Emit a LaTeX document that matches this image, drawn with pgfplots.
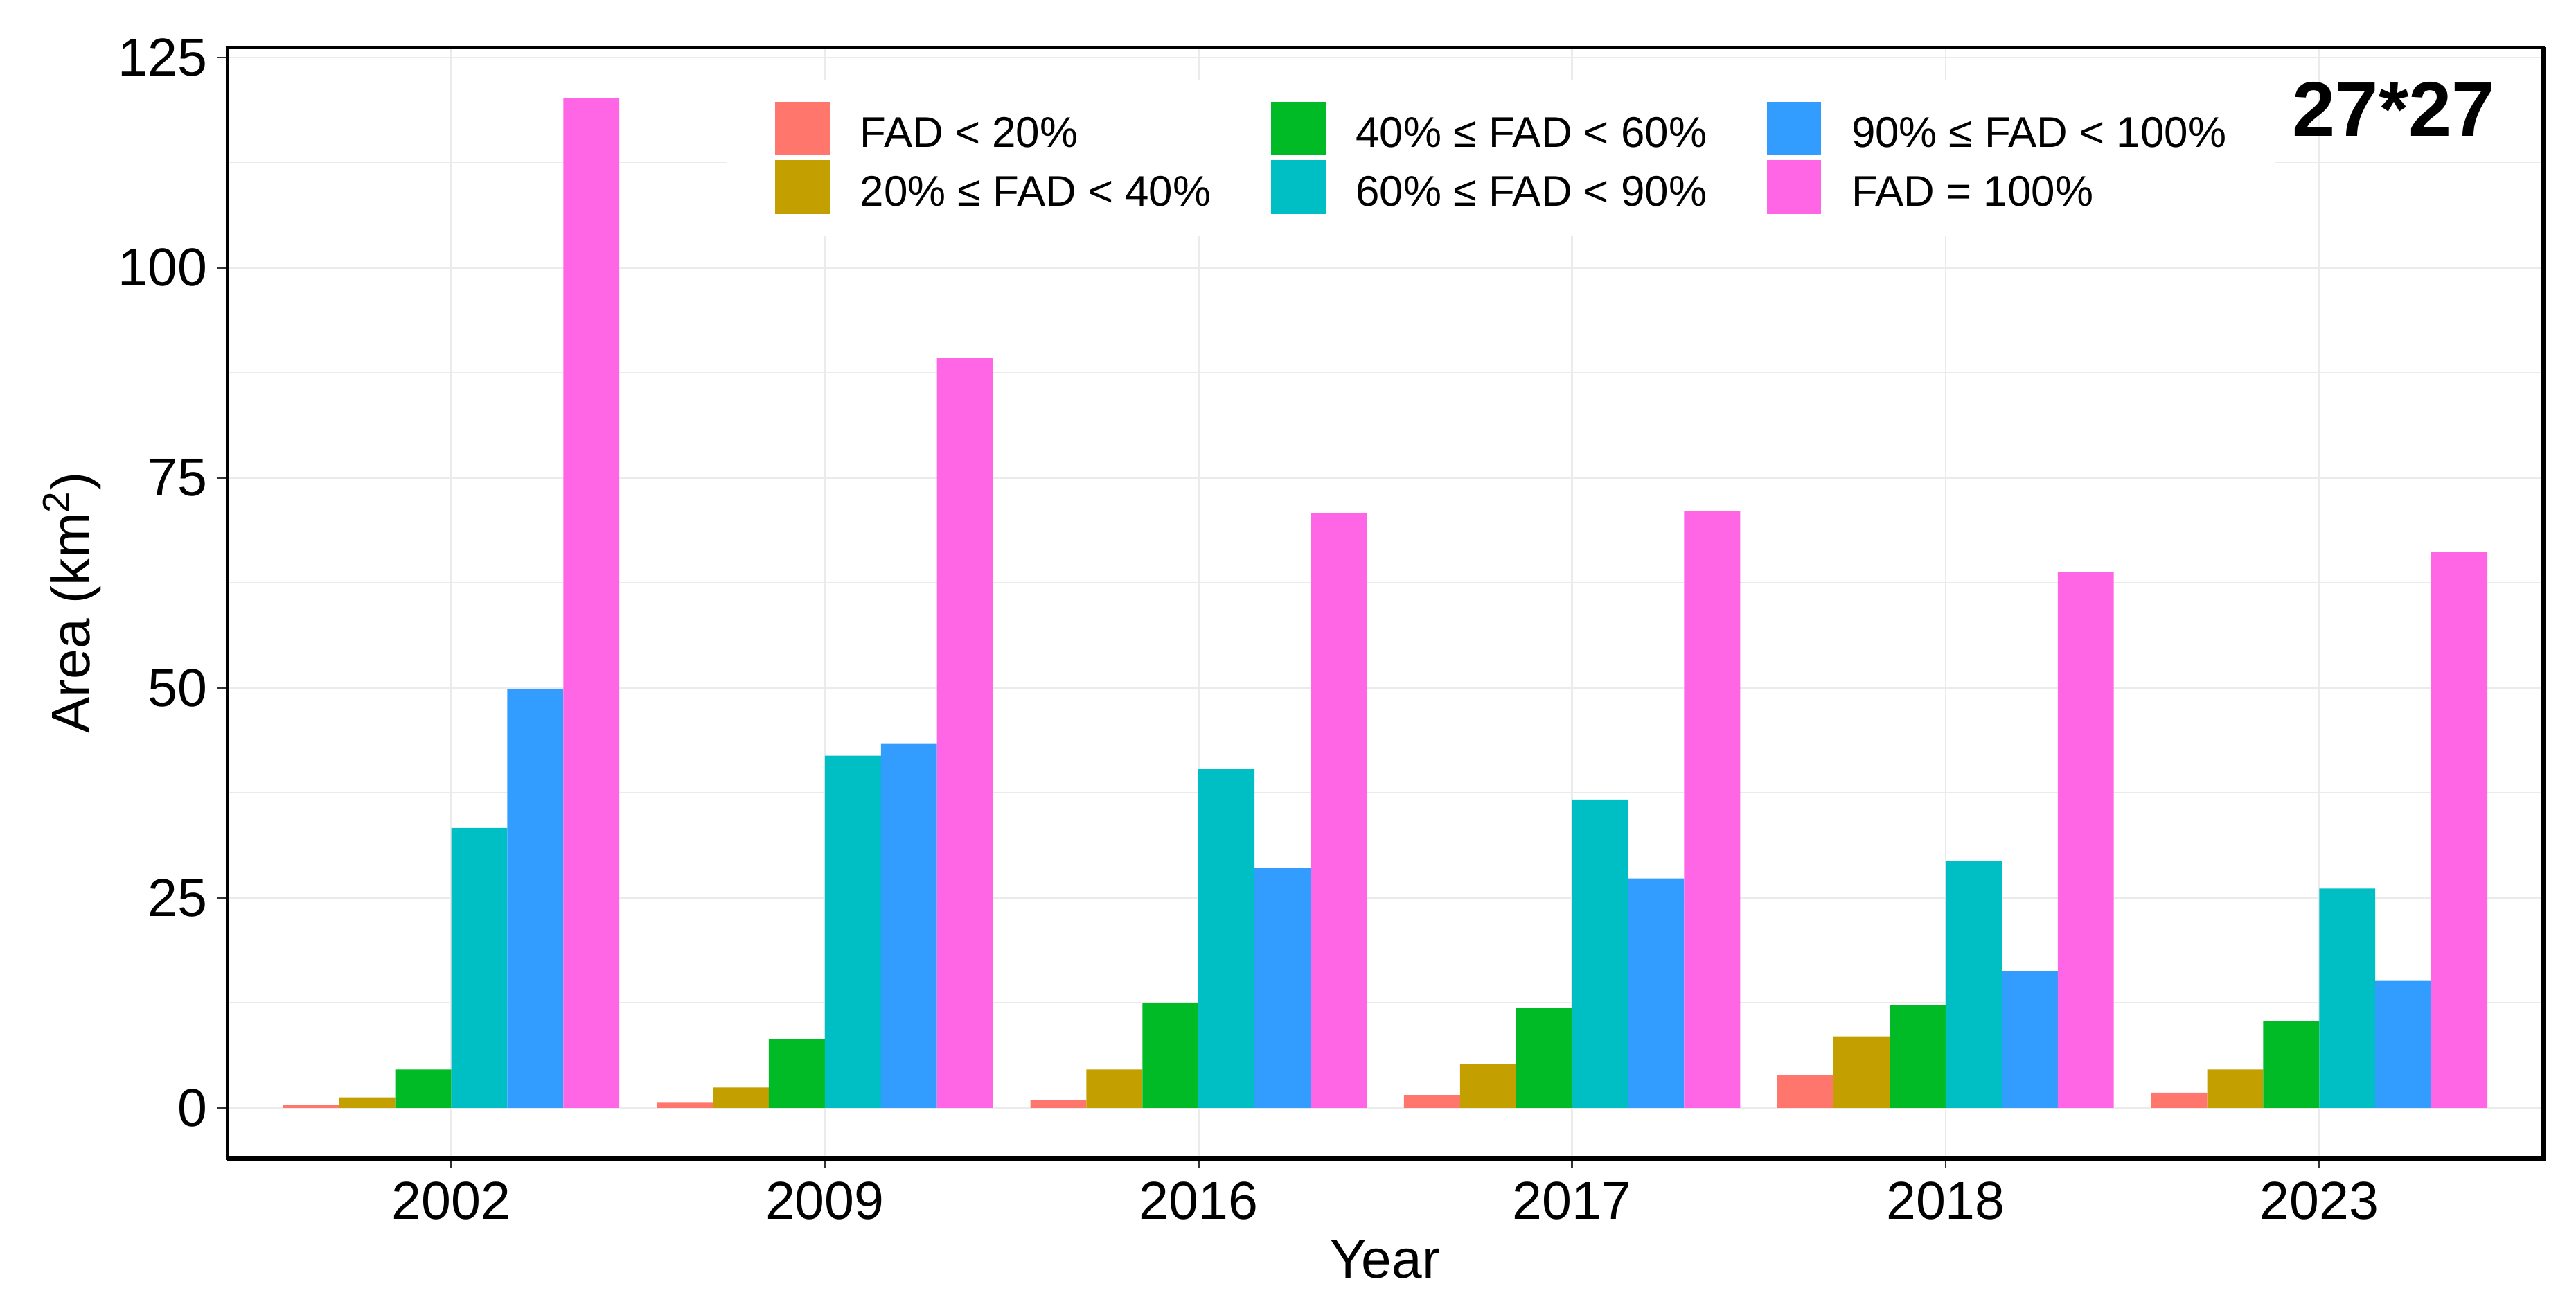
\documentclass[border=0pt]{standalone}
\usepackage{pgfplots}
\pgfplotsset{compat=1.18}
\usepackage{pgfplotstable}
\usepackage{fontspec}
\setmainfont{Liberation Sans}
\usetikzlibrary{calc}

\definecolor{cA}{HTML}{FF766D}
\definecolor{cB}{HTML}{C49F00}
\definecolor{cC}{HTML}{00BA26}
\definecolor{cD}{HTML}{00BFC4}
\definecolor{cE}{HTML}{339CFF}
\definecolor{cF}{HTML}{FF66E6}
\definecolor{gridc}{HTML}{EBEBEB}
\definecolor{tickc}{HTML}{333333}

% x: 0=2002 1=2009 2=2016 3=2017 4=2018 5=2023
\pgfplotstableread{
x   a     b     c      d     e     f
0   0.33  1.24  4.56   33.3  49.8  120.2
1   0.60  2.42  8.20   41.9  43.4  89.2
2   0.90  4.56  12.45  40.3  28.5  70.8
3   1.54  5.17  11.85  36.7  27.3  71.0
4   3.93  8.50  12.18  29.4  16.3  63.8
5   1.81  4.56  10.37  26.1  15.1  66.2
}\areadata

\begin{document}
\begin{tikzpicture}
\begin{axis}[
    name=ax,
    scale only axis,
    width=702.7pt, height=336.9pt,
    xmin=-0.6, xmax=5.6,
    ymin=-6.02, ymax=126.2,
    xtick={0,...,5},
    xticklabels={2002,2009,2016,2017,2018,2023},
    ytick={0,25,...,125},
    minor ytick={12.5,37.5,...,112.5},
    xmajorgrids, ymajorgrids, yminorgrids,
    major grid style={color=gridc, line width=0.6pt},
    minor grid style={color=gridc, line width=0.35pt},
    tick align=outside,
    major tick length=3pt, minor tick length=0pt,
    xtick pos=bottom, ytick pos=left,
    tick style={color=tickc, line width=0.6pt},
    axis line style={line width=0.75pt, black},
    tick label style={font=\fontsize{16.2}{19}\selectfont, inner sep=0pt, text=black},
    xticklabel shift=3.9pt, yticklabel shift=2.8pt,
    /pgf/number format/assume math mode=true,
    legend columns=3,
    legend cell align=left,
    % pgfplots lifts legend images by 0.3em, so the key is drawn that much lower
    legend image code/.code={\fill[#1] (0pt,-6.25pt) rectangle (16.5pt,10.05pt);},
    legend style={at={(0.2156,0.9712)}, anchor=north west,
        fill=white, draw=none, inner xsep=14.6pt, inner ysep=6.5pt,
        font=\fontsize{13}{15.6}\selectfont, row sep=1.55pt,
        nodes={inner sep=0pt},
        /tikz/every odd column/.append style={column sep=9.2pt},
        /tikz/every even column/.append style={column sep=18.2pt}},
]
\addplot[ybar, bar width=0.15, bar shift=-0.375, fill=cA, draw=none, forget plot] table[x=x, y=a] {\areadata};
\addplot[ybar, bar width=0.15, bar shift=-0.225, fill=cB, draw=none, forget plot] table[x=x, y=b] {\areadata};
\addplot[ybar, bar width=0.15, bar shift=-0.075, fill=cC, draw=none, forget plot] table[x=x, y=c] {\areadata};
\addplot[ybar, bar width=0.15, bar shift=0.075, fill=cD, draw=none, forget plot] table[x=x, y=d] {\areadata};
\addplot[ybar, bar width=0.15, bar shift=0.225, fill=cE, draw=none, forget plot] table[x=x, y=e] {\areadata};
\addplot[ybar, bar width=0.15, bar shift=0.375, fill=cF, draw=none, forget plot] table[x=x, y=f] {\areadata};

% legend is filled row by row, so list it in that order
\addlegendimage{fill=cA, draw=none}\addlegendentry{FAD < 20\%}
\addlegendimage{fill=cC, draw=none}\addlegendentry{40\% ≤ FAD < 60\%}
\addlegendimage{fill=cE, draw=none}\addlegendentry{90\% ≤ FAD < 100\%}
\addlegendimage{fill=cB, draw=none}\addlegendentry{20\% ≤ FAD < 40\%}
\addlegendimage{fill=cD, draw=none}\addlegendentry{60\% ≤ FAD < 90\%}
\addlegendimage{fill=cF, draw=none}\addlegendentry{FAD = 100\%}
\end{axis}

\draw[line width=1.5pt, black] (ax.north east) -- (ax.south east) -- (ax.south west);

\node[anchor=base, inner sep=0pt, font=\fontsize{16.5}{20}\selectfont] at ($(ax.south)+(0,-36.35pt)$) {Year};
\node[rotate=90, anchor=base, inner sep=0pt, font=\fontsize{16.5}{20}\selectfont] at ($(ax.west)+(-41.6pt,0)$) {Area (km\textsuperscript{2})};
\node[anchor=base east, inner sep=0pt, font=\bfseries\fontsize{23.5}{28}\selectfont] at ($(ax.north east)+(-14.5pt,-27pt)$) {27*27};

\pgfresetboundingbox
\path ($(ax.south west)+(-68.9pt,-43.5pt)$) rectangle ($(ax.north east)+(9.9pt,14.4pt)$);
\end{tikzpicture}
\end{document}
